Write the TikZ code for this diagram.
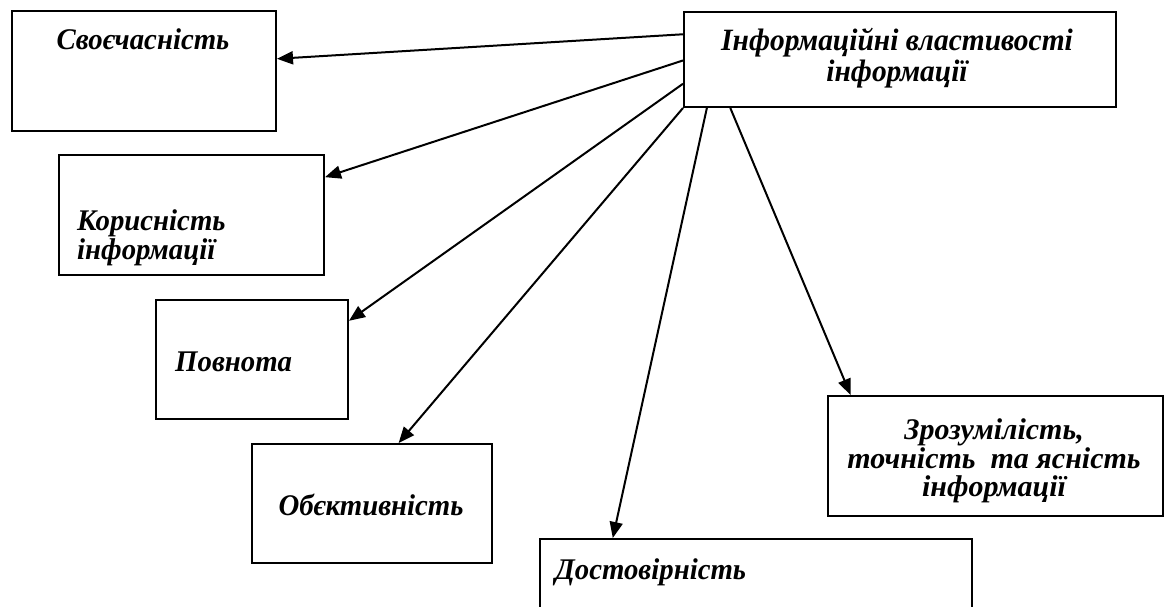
\documentclass[tikz,border=0pt]{standalone}
\usepackage{fontspec}
\setmainfont{Liberation Serif}
\newfontfamily\narrowfont[FakeStretch=0.96]{Liberation Serif}
\newfontfamily\narrowerfont[FakeStretch=0.95]{Liberation Serif}
\usetikzlibrary{calc,arrows.meta}
\lineskiplimit=-100pt
\begin{document}
\begin{tikzpicture}[x=1pt,y=-1pt,
  box/.style={draw,line width=2pt,inner sep=0pt,anchor=north west},
  lbl/.style={font=\narrowfont\fontsize{30}{27}\selectfont\bfseries\itshape,inner sep=0pt},
  arr/.style={line width=2pt,-{Triangle[length=16pt,width=13pt]}}]
\useasboundingbox (0,0) rectangle (1166,607);
\clip (0,0) rectangle (1166,607);
% boxes
\node[box,minimum width=432pt,minimum height=95pt] (main) at (683,11) {};
\node[box,minimum width=264pt,minimum height=120pt] (b1) at (11,10) {};
\node[box,minimum width=265pt,minimum height=120pt] (b2) at (58,154) {};
\node[box,minimum width=192pt,minimum height=119pt] (b3) at (155,299) {};
\node[box,minimum width=240pt,minimum height=119pt] (b4) at (251,443) {};
\node[box,minimum width=432pt,minimum height=90pt] (b5) at (539,538) {};
\node[box,minimum width=335pt,minimum height=120pt] (b6) at (827,395) {};
% texts
\node[lbl,align=center,font=\narrowerfont\fontsize{31}{31}\selectfont\bfseries\itshape] (tmain) at (897,58) {Інформаційні властивості\\інформації};
\node[lbl,anchor=base] (t1) at (143,50) {Своєчасність};
\node[lbl,align=left,anchor=west,font=\narrowfont\fontsize{30}{29}\selectfont\bfseries\itshape] (t2) at (77,238) {Корисність\\інформації};
\node[lbl,anchor=base west] (t3) at (175,371) {Повнота};
\node[lbl,anchor=base] (t4) at (371,515) {Обєктивність};
\node[lbl,anchor=base west] (t5) at (555,579) {Достовірність};
\node[lbl,align=center,font=\fontsize{30}{28.5}\selectfont\bfseries\itshape] (t6) at (994,461) {Зрозумілість,\\точність \ та ясність\\інформації};
% start points
\coordinate (s1) at ($(main.north west)!0.24!(main.south west)$);
\coordinate (s2) at ($(main.north west)!0.51!(main.south west)$);
\coordinate (s3) at ($(main.north west)!0.75!(main.south west)$);
\coordinate (s4) at (main.south west);
\coordinate (s5) at ($(main.south west)!0.055!(main.south east)$);
\coordinate (s6) at ($(main.south west)!0.109!(main.south east)$);
% arrows
\draw[arr] (s1) -- ($(b1.north east)!0.40!(b1.south east)$);
\draw[arr] (s2) -- ($(b2.north east)!0.19!(b2.south east)$);
\draw[arr] (s3) -- ($(b3.north east)!0.18!(b3.south east)$);
\draw[arr] (s4) -- ($(b4.north west)!0.61!(b4.north east)$);
\draw[arr] (s5) -- ($(b5.north west)!0.17!(b5.north east)$);
\draw[arr] (s6) -- ($(b6.north west)!0.07!(b6.north east)$);
\end{tikzpicture}
\end{document}
